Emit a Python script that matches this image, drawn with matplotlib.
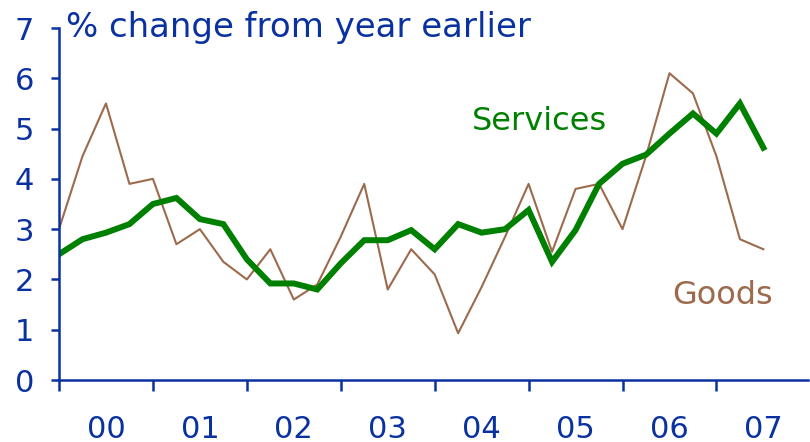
import matplotlib.pyplot as plt
import numpy as np

# quarterly, 2000 Q1 .. 2007 Q3
goods = [3.0, 4.45, 5.5, 3.9, 4.0, 2.7, 3.0, 2.35, 2.0, 2.6,
         1.6, 1.9, 2.85, 3.9, 1.8, 2.6, 2.1, 0.93, 1.85, 2.85,
         3.9, 2.55, 3.8, 3.9, 3.0, 4.45, 6.1, 5.7, 4.45, 2.8, 2.6]
services = [2.5, 2.8, 2.93, 3.1, 3.5, 3.62, 3.2, 3.1, 2.4, 1.92,
            1.92, 1.8, 2.32, 2.78, 2.78, 2.98, 2.6, 3.1, 2.93, 3.0,
            3.38, 2.35, 2.98, 3.9, 4.3, 4.48, 4.9, 5.3, 4.9, 5.5, 4.62]
years = ['00', '01', '02', '03', '04', '05', '06', '07']

BLUE = '#0a31a0'
GREEN = '#008000'
BROWN = '#9c6a4c'

x = np.arange(len(goods))

fig = plt.figure(figsize=(8.1, 4.42), dpi=100)
ax = fig.add_axes([59/810, 62/442, 1 - 59/810 - 2/810, 352/442])

ax.plot(x, goods, color=BROWN, lw=1.5)
ax.plot(x, services, color=GREEN, lw=4.3, solid_joinstyle='miter')

ax.set_xlim(0, 31.9)
ax.set_ylim(0, 7)
for s in ['top', 'right']:
    ax.spines[s].set_visible(False)
for s in ['left', 'bottom']:
    ax.spines[s].set_color(BLUE)
    ax.spines[s].set_linewidth(1.8)

ax.set_yticks(range(8))
ax.tick_params(axis='y', colors=BLUE, labelsize=22, length=6, width=1.8, pad=12)
ax.set_xticks(np.arange(0, 32, 4))
ax.set_xticklabels([])
ax.tick_params(axis='x', which='major', colors=BLUE, length=8, width=1.8)
ax.set_xticks(np.arange(2, 32, 4), minor=True)
ax.set_xticklabels(years, minor=True)
ax.tick_params(axis='x', which='minor', length=0, labelsize=22,
               labelcolor=BLUE, pad=25)

fig.text(66/810, 1 - 27/442, '% change from year earlier', color=BLUE,
         fontsize=24.5, va='center', ha='left')
ax.text(17.6, 4.97, 'Services', color=GREEN, fontsize=23, ha='left')
ax.text(26.1, 1.52, 'Goods', color=BROWN, fontsize=23, ha='left')

fig.savefig('out.png', dpi=100)
